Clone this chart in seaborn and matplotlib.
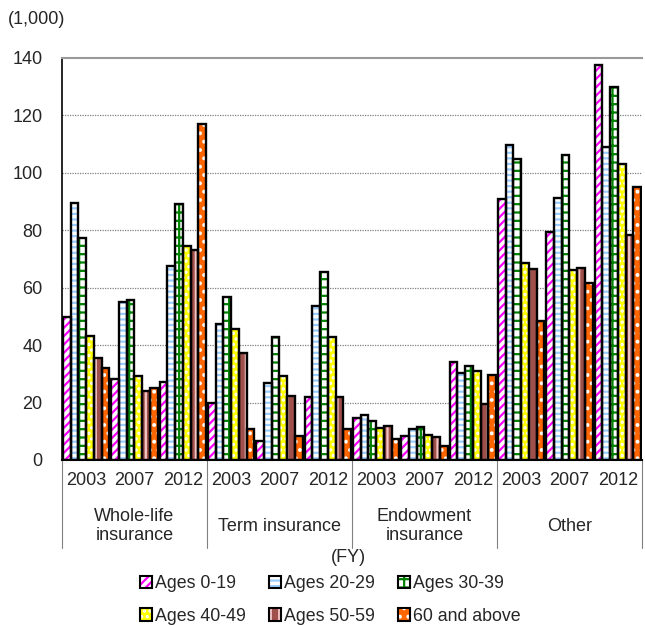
import matplotlib
matplotlib.use("Agg")
import matplotlib.pyplot as plt
import seaborn as sns
import pandas as pd
from matplotlib.patches import Patch
from matplotlib.legend_handler import HandlerTuple

categories = ["Whole-life\ninsurance", "Term insurance", "Endowment\ninsurance", "Other"]
years = ["2003", "2007", "2012"]
ages = ["Ages 0-19", "Ages 20-29", "Ages 30-39", "Ages 40-49", "Ages 50-59", "60 and above"]

# values in thousands, ordered category x year
age_0_19 = [49.9, 28.3, 27.3, 20.0, 6.6, 22.1, 14.6, 8.5, 34.1, 90.8, 79.5, 137.6]
age_20_29 = [89.4, 55.0, 67.7, 47.4, 26.7, 53.6, 15.6, 10.7, 30.3, 109.8, 91.4, 108.9]
age_30_39 = [77.4, 55.7, 89.0, 56.9, 42.9, 65.4, 13.7, 11.5, 32.6, 104.7, 106.2, 130.0]
age_40_49 = [43.3, 29.3, 74.7, 45.5, 29.3, 42.7, 11.1, 8.6, 31.1, 68.7, 66.2, 103.1]
age_50_59 = [35.6, 24.1, 73.0, 37.4, 22.3, 21.8, 11.8, 8.0, 19.4, 66.4, 66.8, 78.3]
age_60_up = [32.2, 25.2, 117.0, 10.7, 8.4, 10.7, 7.4, 5.0, 29.5, 48.5, 61.5, 95.2]

series = [age_0_19, age_20_29, age_30_39, age_40_49, age_50_59, age_60_up]

# styles: face colour, hatch colour, hatch
face_cols = ["white", "white", "white", "#FFFF00", "#A0504A", "#FF6600"]
hatch_cols = ["#FF00FF", "#99CCFF", "#008000", "white", "#F2C4C4", "white"]
hatches = ["////", "---", "++", "...", "||", ".."]

groups = [f"{c}|{y}" for c in categories for y in years]
rows = []
for age, vals in zip(ages, series):
    for g, v in zip(groups, vals):
        rows.append({"group": g, "age": age, "value": v})
df = pd.DataFrame(rows)

sns.set_style("white")
plt.rcParams["font.family"] = ["Liberation Sans", "DejaVu Sans"]
plt.rcParams["hatch.linewidth"] = 1.6

FS = 13

fig = plt.figure(figsize=(6.45, 6.25), dpi=100)
ax = fig.add_axes([0.0961, 0.264, 0.8992, 0.6432])

sns.barplot(df, x="group", y="value", hue="age", order=groups, hue_order=ages,
            width=0.96, gap=0, ax=ax, legend=False)
for i, cont in enumerate(ax.containers):
    for bar in cont:
        bar.set_facecolor(face_cols[i])
        bar.set_edgecolor(hatch_cols[i])
        bar.set_hatch(hatches[i])
        bar.set_linewidth(0)

# black outlines on top
n_before = len(ax.patches)
sns.barplot(df, x="group", y="value", hue="age", order=groups, hue_order=ages,
            width=0.96, gap=0, ax=ax, legend=False)
for bar in ax.patches[n_before:]:
    bar.set_facecolor("none")
    bar.set_edgecolor("black")
    bar.set_linewidth(1.7)

ax.set_ylim(0, 140)
ax.set_xlim(-0.5, 11.5)
ax.set_yticks(range(0, 141, 20))
ax.tick_params(axis="y", length=0, pad=14, labelsize=FS)
for yv in range(20, 140, 20):
    ax.axhline(yv, color="#808080", lw=0.9, ls=(0, (1, 1)), zorder=0)
ax.set_xlabel("")
ax.set_ylabel("")

ax.spines["top"].set_color("#999999")
ax.spines["top"].set_linewidth(1.5)
ax.spines["right"].set_visible(False)
ax.spines["left"].set_color("black")
ax.spines["bottom"].set_color("black")
ax.spines["left"].set_linewidth(1.2)
ax.spines["bottom"].set_linewidth(1.5)

# year labels and separators
ax.set_xticks([i - 0.5 for i in range(13)])
ax.set_xticklabels([""] * 13)
ax.tick_params(axis="x", length=23, width=0.8, color="#808080", direction="out")
xt = ax.get_xaxis_transform()
for i, g in enumerate(groups):
    ax.text(i, -0.05, g.split("|")[1], transform=xt, ha="center", va="center", fontsize=FS)
for k in range(5):
    ax.plot([3 * k - 0.5, 3 * k - 0.5], [0, -0.22], transform=xt, color="#808080",
            lw=0.8, clip_on=False)
for k, c in enumerate(categories):
    ax.text(3 * k + 1, -0.165, c, transform=xt, ha="center", va="center",
            fontsize=FS, linespacing=1.15)

fig.text(0.54, 0.108, "(FY)", ha="center", va="center", fontsize=FS)
fig.text(0.012, 0.968, "(1,000)", ha="left", va="center", fontsize=FS)

handles = [(Patch(facecolor=face_cols[i], edgecolor=hatch_cols[i], hatch=hatches[i], lw=0),
            Patch(facecolor="none", edgecolor="black", lw=1.5)) for i in range(6)]
order = [0, 3, 1, 4, 2, 5]
fig.legend([handles[i] for i in order], [ages[i] for i in order], ncol=3,
           loc="center", bbox_to_anchor=(0.512, 0.04), frameon=False, fontsize=12.8,
           handlelength=0.7, handleheight=0.7, handletextpad=0.15, columnspacing=1.3,
           labelspacing=0.85, handler_map={tuple: HandlerTuple(ndivide=1, pad=0)})

fig.savefig("out.png", dpi=100)
